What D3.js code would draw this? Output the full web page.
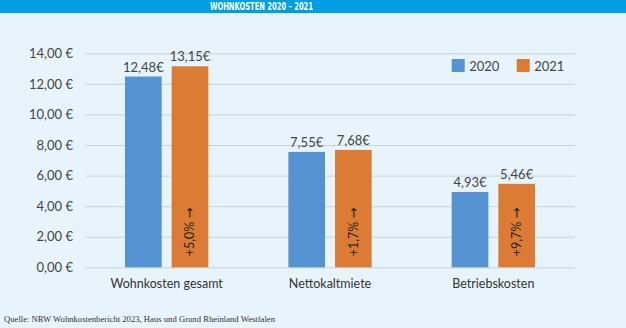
<!DOCTYPE html>
<html><head><meta charset="utf-8">
<script src="https://cdn.jsdelivr.net/npm/d3@7"></script>
<style>
html,body{margin:0;padding:0;background:#e8f4fc;}
svg{display:block;}
</style></head>
<body>
<svg id="c" width="626" height="328"></svg>
<script>
const title = "WOHNKOSTEN 2020 – 2021";
const source = "Quelle: NRW Wohnkostenbericht 2023, Haus und Grund Rheinland Westfalen";
const categories = ["Wohnkosten gesamt", "Nettokaltmiete", "Betriebskosten"];
const seriesNames = ["2020", "2021"];
const values2020 = [12.48, 7.55, 4.93];
const values2021 = [13.15, 7.68, 5.46];
const changeLabels = ["+5,0%", "+1,7%", "+9,7%"];
const yTicks = [0, 2, 4, 6, 8, 10, 12, 14];
const colors = ["#5592d1", "#dc7b33"];

const svg = d3.select("#c");
const W = 626, H = 328;
svg.append("rect").attr("width", W).attr("height", H).attr("fill", "#e8f4fc");
svg.append("rect").attr("width", W).attr("height", 13).attr("fill", "#009fe3");
svg.append("text").attr("x", 261.5).attr("y", 10.3).attr("text-anchor", "middle")
  .attr("font-family", "'DejaVu Sans Condensed', 'Roboto', sans-serif").attr("font-weight", "bold")
  .attr("font-size", 10).attr("fill", "#fff")
  .attr("textLength", 103).attr("lengthAdjust", "spacingAndGlyphs").text(title);

const y = d3.scaleLinear().domain([0, 14]).range([267.3, 53.3]);
const x0 = d3.scaleBand().domain(categories).range([85, 575]).paddingInner(0.49).paddingOuter(0.245);
const x1 = d3.scaleBand().domain(seriesNames).range([0, x0.bandwidth()]).paddingInner(0.214);

const fontUI = "Lato, 'Noto Sans', sans-serif";
const fs = 13;

const yAxis = d3.axisLeft(y).tickValues(yTicks).tickSize(-(575 - 85)).tickPadding(12)
  .tickFormat(d => d3.format(".2f")(d).replace(".", ",") + " €");
const gA = svg.append("g").attr("transform", "translate(85,0)").call(yAxis);
gA.select(".domain").remove();
gA.selectAll(".tick line").attr("stroke", "#c6d3dc").attr("stroke-width", 1);
gA.selectAll(".tick text").attr("font-family", fontUI).attr("font-size", fs).attr("fill", "#444");

const data = categories.map((c, i) => ({cat: c, vals: [values2020[i], values2021[i]], change: changeLabels[i]}));

const groups = svg.append("g").selectAll("g").data(data).join("g")
  .attr("transform", d => `translate(${x0(d.cat)},0)`);

groups.selectAll("rect").data(d => d.vals.map((v, j) => ({v, s: seriesNames[j], j})))
  .join("rect")
  .attr("x", d => x1(d.s)).attr("width", x1.bandwidth())
  .attr("y", d => y(d.v)).attr("height", d => y(0) - y(d.v))
  .attr("fill", d => colors[d.j]);

groups.selectAll("text.val").data(d => d.vals.map((v, j) => ({v, s: seriesNames[j]})))
  .join("text").attr("class", "val")
  .attr("x", d => x1(d.s) + x1.bandwidth() / 2).attr("y", d => y(d.v) - 5)
  .attr("text-anchor", "middle").attr("font-family", fontUI).attr("font-size", fs).attr("fill", "#444")
  .text(d => d3.format(".2f")(d.v).replace(".", ",") + "€");

const ch = groups.append("text")
  .attr("transform", d => `translate(${x1("2021") + x1.bandwidth() / 2 + 4.5},${y(0) - 11}) rotate(-90)`)
  .attr("font-family", fontUI).attr("font-size", 12.5).attr("fill", "#222");
ch.append("tspan").text(d => d.change + " ");
ch.append("tspan").attr("font-family", "'DejaVu Sans', sans-serif").attr("font-size", 13).text("→");

svg.append("g").selectAll("text").data(categories).join("text")
  .attr("x", d => x0(d) + x0.bandwidth() / 2).attr("y", 288)
  .attr("text-anchor", "middle").attr("font-family", fontUI).attr("font-size", 12.5).attr("fill", "#333")
  .text(d => d);

const legX = [451.7, 516.7];
const leg = svg.append("g").selectAll("g").data(seriesNames).join("g")
  .attr("transform", (d, i) => `translate(${legX[i]},59)`);
leg.append("rect").attr("width", 13).attr("height", 13).attr("fill", (d, i) => colors[i]);
leg.append("text").attr("x", 17.5).attr("y", 11.5).attr("font-family", fontUI).attr("font-size", fs)
  .attr("fill", "#444").text(d => d);

svg.append("text").attr("x", 4).attr("y", 322).attr("font-family", "'Liberation Serif', serif")
  .attr("font-size", 8.5).attr("fill", "#333")
  .attr("textLength", 271).attr("lengthAdjust", "spacingAndGlyphs").text(source);
</script>
</body></html>
